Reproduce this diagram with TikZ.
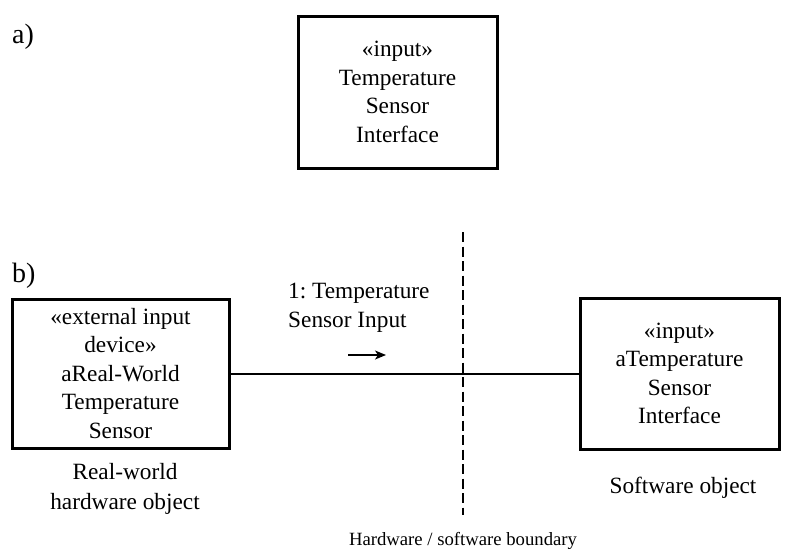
\documentclass[tikz,border=0pt]{standalone}
\usepackage{fontspec}
\setmainfont{Liberation Serif}
\usetikzlibrary{arrows.meta}
\begin{document}
\frenchspacing
\begin{tikzpicture}[x=1pt,y=-1pt,
  txt/.style={font=\fontsize{23.3}{28.5}\selectfont, inner sep=0pt, align=center},
  objbox/.style={draw, line width=3pt, inner sep=0pt, align=center,
    font=\fontsize{23.3}{28.5}\selectfont},
  partlabel/.style={font=\fontsize{28}{30}\selectfont, inner sep=0pt, anchor=base west},
  conn/.style={line width=2pt},
  boundary/.style={line width=2.5pt, dash pattern=on 10pt off 4.5pt}]
\useasboundingbox (0,0) rectangle (807,555);

% a)
\node[partlabel] (la) at (12,43) {a)};
\node[objbox, minimum width=199pt, minimum height=152pt] (tsi) at (397.5,92)
  {«input»\\Temperature\\Sensor\\Interface};

% b)
\node[partlabel] (lb) at (12,282) {b)};
\node[objbox, minimum width=217pt, minimum height=149pt] (ext) at (120.5,373.5)
  {«external input\\device»\\aReal-World\\Temperature\\Sensor};
\node[objbox, minimum width=199pt, minimum height=151pt] (sw) at (679.5,373.5)
  {«input»\\aTemperature\\Sensor\\Interface};

\draw[conn] (ext.east) -- (sw.west);

\node[txt, align=left, anchor=west] (msg) at (288,308) {1: Temperature\\Sensor Input};
\coordinate (arrS) at (348,355);
\coordinate (arrE) at (386,355);
\draw[line width=1.8pt, -{Stealth[length=11pt,width=9pt,inset=3pt]}] (arrS) -- (arrE);

\coordinate (bTop) at (463,232);
\coordinate (bBot) at (463,515);
\draw[boundary] (bTop) -- (bBot);

\node[txt, font=\fontsize{23.3}{30}\selectfont] (hwl) at (125,489) {Real-world\\hardware object};
\node[txt] (swl) at (683,488) {Software object};
\node[txt, font=\fontsize{18.7}{22}\selectfont] (bl) at (463,541) {Hardware / software boundary};
\end{tikzpicture}
\end{document}
